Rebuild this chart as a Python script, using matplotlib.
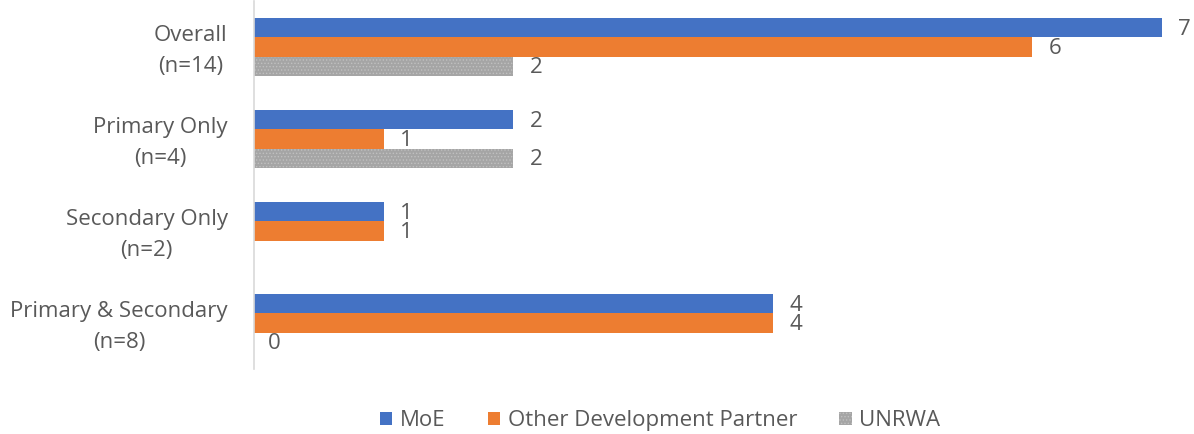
import numpy as np
import matplotlib
matplotlib.use("Agg")
import matplotlib.pyplot as plt
from matplotlib.transforms import ScaledTranslation

plt.rcParams['font.family'] = ['Open Sans', 'DejaVu Sans']
plt.rcParams['hatch.linewidth'] = 0.6

categories = ['Overall\n(n=14)', 'Primary Only\n(n=4)', 'Secondary Only\n(n=2)', 'Primary & Secondary\n(n=8)']
moe = [7, 2, 1, 4]
other_dp = [6, 1, 1, 4]
unrwa = [2, 2, np.nan, 0]

series = [('MoE', moe, '#4472C4'),
          ('Other Development Partner', other_dp, '#ED7D31'),
          ('UNRWA', unrwa, '#A5A5A5')]

text_col = '#595959'
fs = 16

fig = plt.figure(figsize=(11.94, 4.34), dpi=100)
ax = fig.add_axes([254 / 1194, 1 - 369 / 434, (1176 - 254) / 1194, 368 / 434])

y = np.arange(len(categories))
h = 0.207
handles = []
for i, (name, vals, col) in enumerate(series):
    vals = np.array(vals, dtype=float)
    pos = y + (i - 1) * h
    if name == 'UNRWA':
        bars = ax.barh(pos, np.nan_to_num(vals), height=h, color=col,
                       hatch='.....', edgecolor='#C0C0C0', linewidth=0, label=name)
    else:
        bars = ax.barh(pos, vals, height=h, color=col, label=name)
    handles.append(bars)
    for p, v in zip(pos, vals):
        if np.isnan(v):
            continue
        ax.annotate(f'{int(v)}', (v, p), xytext=(12 if v > 0 else 10, -1),
                    textcoords='offset points', ha='left', va='center',
                    fontsize=fs, color=text_col)

ax.set_ylim(3.5, -0.5)
ax.set_xlim(0, 7.11)
ax.set_yticks(y)
ax.set_yticklabels(categories, fontsize=fs, color=text_col,
                   multialignment='center', linespacing=1.6)
ax.tick_params(axis='y', length=0, pad=19)
# nudge category labels up a little
for lab in ax.get_yticklabels():
    lab.set_transform(lab.get_transform() + ScaledTranslation(0, 0.035, fig.dpi_scale_trans))
ax.set_xticks([])
for s in ['top', 'right', 'bottom']:
    ax.spines[s].set_visible(False)
ax.spines['left'].set_color('#D9D9D9')
ax.spines['left'].set_linewidth(1.2)

fig.legend(handles=handles, loc='center', bbox_to_anchor=(0.553, 0.03), ncol=3,
           frameon=False, fontsize=fs, handlelength=0.55, handleheight=0.55,
           handletextpad=0.35, columnspacing=1.9, labelcolor=text_col)

fig.savefig('out.png', dpi=100)
